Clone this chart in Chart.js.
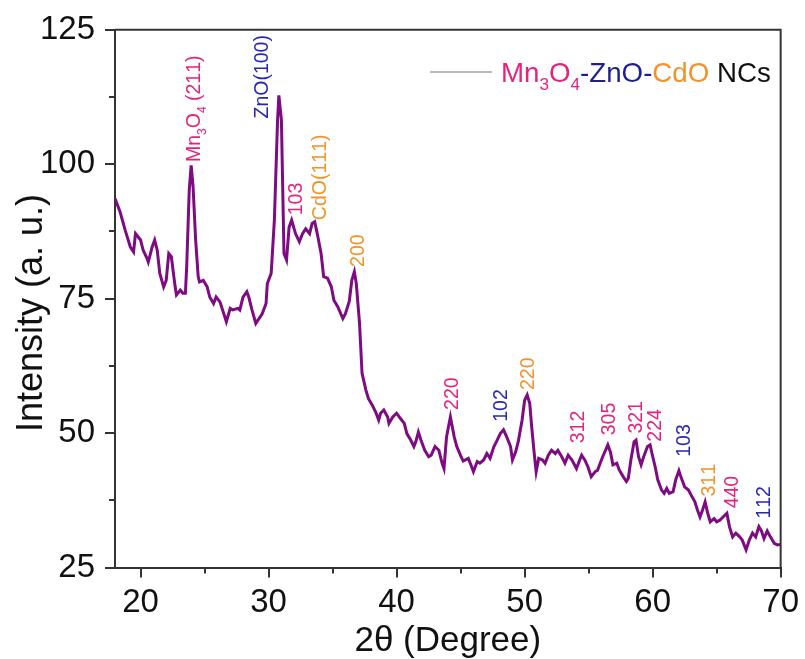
<!DOCTYPE html>
<html>
<head>
<meta charset="utf-8">
<script src="https://cdn.jsdelivr.net/npm/chart.js@4.4.0/dist/chart.umd.min.js"></script>
<style>
  html, body { margin: 0; padding: 0; background: #fff; }
  #wrap { width: 805px; height: 659px; }
</style>
</head>
<body>
<div id="wrap"><canvas id="xrdChart"></canvas></div>
<script>
// XRD pattern
const twoTheta = [
  18.0, 18.4, 18.8, 19.2, 19.45, 19.6, 20.0, 20.2, 20.5, 20.6, 20.9, 21.1, 21.3, 21.5, 21.8, 22.0,
  22.2, 22.4, 22.7, 22.8, 23.1, 23.3, 23.5, 23.6, 23.8, 23.95, 24.1, 24.3, 24.5, 24.6, 24.9, 25.2,
  25.4, 25.7, 25.9, 26.2, 26.5, 26.7, 27.0, 27.2, 27.6, 27.75, 28.0, 28.3, 28.45, 28.7, 29.0, 29.5,
  29.8, 29.9, 30.2, 30.45, 30.7, 30.8, 31.0, 31.1, 31.2, 31.4, 31.6, 31.8, 32.1, 32.4, 32.65, 32.9,
  33.2, 33.4, 33.6, 33.8, 34.1, 34.3, 34.6, 34.9, 35.1, 35.4, 35.8, 36.0, 36.3, 36.5, 36.7, 36.85,
  37.1, 37.3, 37.6, 37.8, 38.1, 38.4, 38.6, 38.75, 39.0, 39.3, 39.4, 39.7, 40.0, 40.3, 40.6, 40.8,
  41.1, 41.35, 41.5, 41.7, 41.9, 42.2, 42.5, 42.7, 43.0, 43.3, 43.55, 43.7, 43.9, 44.2, 44.5, 44.7,
  45.0, 45.2, 45.6, 45.8, 46.0, 46.3, 46.5, 46.8, 47.05, 47.3, 47.6, 47.8, 48.1, 48.35, 48.6, 48.9,
  49.05, 49.3, 49.5, 49.8, 50.0, 50.2, 50.4, 50.55, 50.75, 50.9, 51.1, 51.4, 51.6, 51.85, 52.1, 52.4,
  52.6, 52.9, 53.15, 53.4, 53.7, 54.05, 54.3, 54.45, 54.7, 54.95, 55.2, 55.5, 55.7, 55.9, 56.1, 56.5,
  56.7, 56.9, 57.2, 57.4, 57.7, 57.95, 58.1, 58.3, 58.55, 58.7, 58.9, 59.1, 59.3, 59.6, 59.8, 59.95,
  60.2, 60.4, 60.7, 60.9, 61.1, 61.3, 61.6, 61.8, 62.05, 62.2, 62.5, 62.8, 63.0, 63.3, 63.5, 63.7,
  63.9, 64.1, 64.3, 64.5, 64.8, 65.0, 65.25, 65.5, 65.8, 66.0, 66.25, 66.5, 66.8, 67.0, 67.3, 67.55,
  67.8, 68.05, 68.3, 68.5, 68.7, 68.95, 69.2, 69.5, 69.75, 70.0
];
const intensity = [
  93.6, 91.1, 87.7, 84.6, 83.7, 87.1, 85.9, 84.0, 82.5, 81.8, 84.6, 85.9, 84.0, 79.7, 77.2, 78.4,
  83.4, 82.8, 77.2, 75.7, 76.6, 76.0, 76.0, 80.9, 95.2, 99.8, 95.8, 85.9, 79.1, 78.1, 78.4, 77.2,
  75.3, 74.1, 75.3, 74.4, 72.2, 70.7, 73.2, 72.9, 73.2, 72.9, 75.3, 76.3, 75.3, 72.9, 70.4, 72.2,
  74.1, 77.8, 79.7, 89.6, 108.2, 112.8, 108.2, 95.8, 83.4, 82.2, 88.3, 89.6, 87.1, 85.6, 87.1, 88.0,
  87.1, 89.0, 89.3, 87.1, 83.4, 79.1, 78.8, 77.2, 74.7, 73.5, 71.3, 72.2, 74.5, 78.4, 80.0, 77.8,
  70.5, 61.1, 58.0, 56.4, 55.2, 53.7, 52.4, 53.7, 54.3, 53.0, 51.8, 53.0, 53.7, 52.7, 51.8, 49.9,
  48.7, 47.5, 48.4, 50.2, 48.7, 46.8, 45.6, 45.9, 47.5, 46.8, 44.4, 43.4, 49.3, 53.0, 49.3, 47.5,
  45.8, 44.8, 45.3, 44.1, 42.8, 44.7, 44.4, 45.0, 46.2, 45.3, 47.5, 48.4, 49.9, 50.6, 49.3, 47.5,
  45.0, 46.5, 48.4, 52.4, 56.1, 57.1, 55.5, 51.2, 46.2, 42.8, 45.3, 45.0, 44.4, 45.9, 46.8, 46.2,
  46.8, 45.6, 44.4, 45.9, 45.0, 43.4, 45.0, 45.9, 45.0, 43.7, 41.9, 42.8, 43.1, 44.4, 45.6, 47.8,
  46.5, 44.1, 44.4, 43.1, 41.9, 41.0, 41.6, 45.0, 48.4, 48.7, 45.6, 44.1, 45.6, 47.5, 47.8, 46.2,
  43.7, 41.3, 39.4, 38.8, 39.7, 38.8, 39.1, 41.3, 43.0, 41.9, 40.0, 39.4, 38.5, 37.2, 35.7, 34.4,
  35.7, 37.2, 35.1, 33.5, 34.1, 33.5, 33.8, 34.4, 35.1, 32.6, 30.7, 31.4, 30.7, 30.1, 28.3, 30.1,
  31.4, 30.7, 32.6, 31.8, 30.4, 31.8, 30.7, 29.5, 29.2, 29.3
];

const xTicks = [20, 30, 40, 50, 60, 70];
const xMinorTicks = [25, 35, 45, 55, 65];
const yTicks = [25, 50, 75, 100, 125];
const yMinorTicks = [37.5, 62.5, 87.5, 112.5];

// peak annotations: "_" marks a subscript digit
const peakNames = ['Mn_3O_4 (211)', 'ZnO(100)', '103', 'CdO(111)', '200', '220', '102', '220',
  '312', '305', '321', '224', '103', '311', '440', '112'];
const peakTheta = [24.1, 29.4, 32.05, 33.9, 36.9, 44.25, 48.1, 50.2,
  54.1, 56.5, 58.65, 60.1, 62.4, 64.3, 66.1, 68.6];
const peakBase = [100.4, 108.5, 90.5, 89.6, 80.9, 54.3, 52.1, 58.0,
  48.1, 49.6, 49.9, 48.4, 45.6, 38.2, 36.0, 34.1];
const peakPhase = ['Mn', 'Zn', 'Mn', 'Cd', 'Cd', 'Mn', 'Zn', 'Cd',
  'Mn', 'Mn', 'Mn', 'Mn', 'Zn', 'Cd', 'Mn', 'Zn'];

const phaseColors = { Mn: '#e5227c', Zn: '#2727b8', Cd: '#f2922a' };
const FONT = '"Liberation Sans", Arial, Helvetica, sans-serif';
const AXIS = '#333333';

// draws text with "_x" subscripts along the current baseline, returns width
function drawRich(ctx, str, x, y, size, color) {
  const parts = [];
  for (let i = 0; i < str.length; i++) {
    if (str[i] === '_' && i + 1 < str.length) { parts.push({ t: str[i + 1], sub: true }); i++; }
    else parts.push({ t: str[i], sub: false });
  }
  let cx = x;
  ctx.fillStyle = color;
  ctx.textAlign = 'left';
  ctx.textBaseline = 'alphabetic';
  parts.forEach(p => {
    const s = p.sub ? size * 0.62 : size;
    ctx.font = s + 'px ' + FONT;
    ctx.fillText(p.t, cx, y + (p.sub ? size * 0.3 : 0));
    cx += ctx.measureText(p.t).width;
  });
  return cx - x;
}

const decorPlugin = {
  id: 'decor',
  afterDraw(chart) {
    const { ctx, chartArea: a, scales: { x, y } } = chart;
    ctx.save();

    // top and right frame
    ctx.strokeStyle = AXIS;
    ctx.lineWidth = 2;
    ctx.beginPath();
    ctx.moveTo(a.left, a.top);
    ctx.lineTo(a.right, a.top);
    ctx.lineTo(a.right, a.bottom);
    ctx.stroke();

    // minor ticks
    ctx.beginPath();
    xMinorTicks.forEach(v => {
      const px = Math.round(x.getPixelForValue(v));
      ctx.moveTo(px, a.bottom);
      ctx.lineTo(px, a.bottom + 6);
    });
    yMinorTicks.forEach(v => {
      const py = Math.round(y.getPixelForValue(v));
      ctx.moveTo(a.left, py);
      ctx.lineTo(a.left - 6, py);
    });
    ctx.stroke();

    // peak labels, rotated
    const ls = 19.5;
    peakNames.forEach((name, i) => {
      ctx.save();
      ctx.translate(x.getPixelForValue(peakTheta[i]), y.getPixelForValue(peakBase[i]));
      ctx.rotate(-Math.PI / 2);
      drawRich(ctx, name, 0, ls * 0.36, ls, phaseColors[peakPhase[i]]);
      ctx.restore();
    });

    // legend
    ctx.strokeStyle = '#777';
    ctx.lineWidth = 1;
    ctx.beginPath();
    ctx.moveTo(430, 72);
    ctx.lineTo(492, 72);
    ctx.stroke();
    let lx = 501;
    const ly = 82;
    const lf = 27.7;
    lx += drawRich(ctx, 'Mn_3O_4', lx, ly, lf, '#e5227c');
    lx += drawRich(ctx, '-ZnO-', lx, ly, lf, '#1f1f8e');
    lx += drawRich(ctx, 'CdO', lx, ly, lf, '#f2922a');
    drawRich(ctx, ' NCs', lx, ly, lf, '#111');

    // axis titles
    ctx.fillStyle = '#111';
    ctx.font = '35px ' + FONT;
    ctx.textAlign = 'center';
    ctx.textBaseline = 'alphabetic';
    ctx.fillText('2\u03b8 (Degree)', (a.left + a.right) / 2, 651);
    ctx.translate(42, 313);
    ctx.rotate(-Math.PI / 2);
    ctx.font = '36px ' + FONT;
    ctx.fillText('Intensity (a. u.)', 0, 0);

    ctx.restore();
  }
};

const ctx = document.getElementById('xrdChart').getContext('2d');
const xrdChart = new Chart(ctx, {
  type: 'line',
  data: {
    datasets: [{
      label: 'Mn3O4-ZnO-CdO NCs',
      data: twoTheta.map((t, i) => ({ x: t, y: intensity[i] })),
      borderColor: '#7e0b82',
      borderWidth: 3,
      pointRadius: 0,
      tension: 0,
      fill: false
    }]
  },
  options: {
    responsive: true,
    maintainAspectRatio: false,
    animation: false,
    layout: {
      padding: { top: 29.5, right: 23, left: 0, bottom: 0 }
    },
    plugins: {
      legend: { display: false },
      tooltip: { enabled: false }
    },
    scales: {
      x: {
        type: 'linear',
        min: 18,
        max: 70,
        afterBuildTicks: s => { s.ticks = xTicks.map(v => ({ value: v })); },
        afterFit: s => { s.height = 91.5; },
        ticks: {
          color: '#111',
          font: { family: FONT, size: 33 },
          padding: 6,
          maxRotation: 0
        },
        grid: {
          drawOnChartArea: false,
          drawTicks: true,
          tickLength: 10,
          color: AXIS,
          lineWidth: 2
        },
        border: { display: true, color: AXIS, width: 2 }
      },
      y: {
        min: 25,
        max: 125,
        afterBuildTicks: s => { s.ticks = yTicks.map(v => ({ value: v })); },
        afterFit: s => { s.width = 115; },
        ticks: {
          color: '#111',
          font: { family: FONT, size: 33 },
          padding: 10
        },
        grid: {
          drawOnChartArea: false,
          drawTicks: true,
          tickLength: 10,
          color: AXIS,
          lineWidth: 2
        },
        border: { display: true, color: AXIS, width: 2 }
      }
    }
  },
  plugins: [decorPlugin]
});
</script>
</body>
</html>
